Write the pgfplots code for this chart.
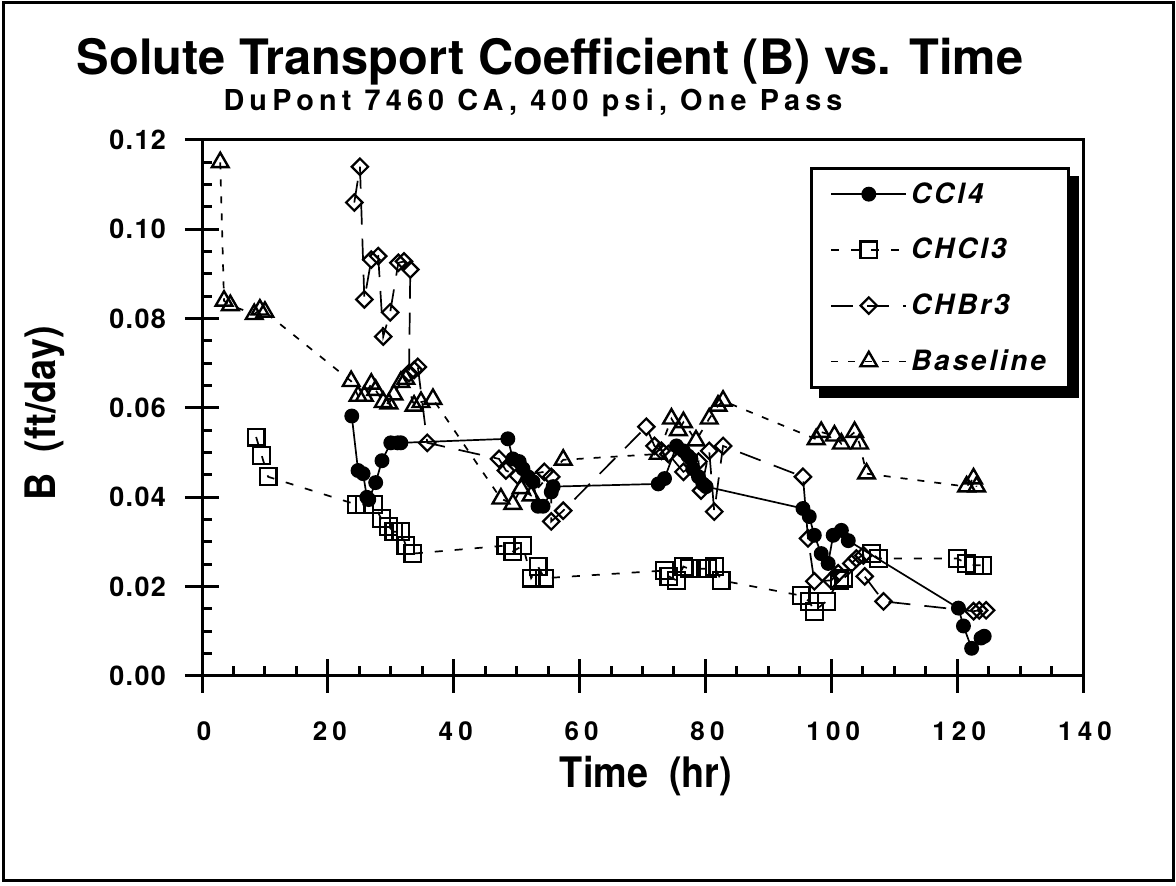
\documentclass[border=0pt]{standalone}
\usepackage{fontspec}
\setmainfont{TeX Gyre Heros}
\newfontfamily\cond[FakeStretch=0.9]{TeX Gyre Heros}
\newfontfamily\spaced[LetterSpace=10]{TeX Gyre Heros}
\newfontfamily\xspaced[LetterSpace=20]{TeX Gyre Heros}
\newfontfamily\yspaced[LetterSpace=5]{TeX Gyre Heros}
\newfontfamily\subspaced[LetterSpace=18]{TeX Gyre Heros}
\usepackage{pgfplots}
\pgfplotsset{compat=1.18}

\begin{document}
\begin{tikzpicture}
\useasboundingbox (0,0) rectangle (588pt,443pt);
\draw[line width=1.5pt] (1.5pt,2.5pt) rectangle (586.5pt,441.5pt);
\node[font=\bfseries\fontsize{24.4}{28}\selectfont] at (275pt,412pt) {Solute Transport Coefficient (B) vs. Time};
\node[font=\subspaced\bfseries\fontsize{14.4}{16}\selectfont] at (266.5pt,391.5pt) {DuPont 7460 CA, 400 psi, One Pass};
\begin{axis}[
  at={(101pt,105pt)}, anchor=south west,
  scale only axis, width=440.5pt, height=268pt,
  xmin=0, xmax=140, ymin=0, ymax=0.12,
  xtick={0,20,...,140}, ytick={0,0.02,0.04,0.06,0.08,0.10,0.12},
  minor x tick num=3, minor y tick num=3,
  tick pos=left,
  tick align=center, major tick length=17pt, minor tick length=5pt,
  minor x tick style={yshift=2.5pt}, minor y tick style={xshift=2.5pt},
  axis line style={line width=1.5pt},
  every tick/.style={line width=1.5pt, black},
  scaled y ticks=false,
  /pgf/number format/assume math mode=true,
  y tick label style={/pgf/number format/fixed, /pgf/number format/fixed zerofill, /pgf/number format/precision=2},
  xticklabel style={font=\xspaced\bfseries\fontsize{13}{15}\selectfont, yshift=-11pt, xshift=1pt},
  yticklabel style={font=\yspaced\bfseries\fontsize{13.5}{15}\selectfont, xshift=-6pt},
  xlabel={Time\ \ (hr)},
  ylabel={B\ \ (ft/day)},
  every axis x label/.style={at={(axis description cs:0.504,-0.187)}, anchor=center, font=\cond\bfseries\fontsize{21}{24}\selectfont},
  every axis y label/.style={at={(axis description cs:-0.178,0.49)}, anchor=center, rotate=90, font=\cond\bfseries\fontsize{21}{24}\selectfont},
  legend style={at={(0.690,0.950)}, anchor=north west, draw=black, line width=1.5pt, fill=white,
    name=leg,
    inner xsep=9.5pt, inner ysep=5pt, row sep=12pt,
    font=\spaced\bfseries\itshape\fontsize{14}{16}\selectfont,
    cells={anchor=west}},
  legend image code/.code={\draw[mark repeat=2,mark phase=2] plot coordinates {(0cm,0cm) (0.66cm,0cm) (1.32cm,0cm)};},
  clip=false,
]
% CCl4
\addplot[black, line width=0.85pt, mark=*, mark size=3.3pt, mark options={solid, fill=black}] coordinates {
(23.8,0.0582)(24.8,0.0460)(25.6,0.0453)(26.2,0.0400)(26.5,0.0395)(27.6,0.0433)(28.6,0.0482)(30.0,0.0522)(31.1,0.0522)(31.6,0.0522)
(48.6,0.0531)(49.4,0.0486)(50.4,0.0480)(51.0,0.0464)(51.8,0.0446)(52.6,0.0435)(53.4,0.0380)(54.2,0.0380)(55.5,0.0412)(55.8,0.0424)
(72.5,0.0430)(73.5,0.0442)(75.4,0.0515)(76.5,0.0504)(77.2,0.0493)(77.7,0.0486)(78.0,0.0464)(78.9,0.0446)(79.6,0.0430)(80.1,0.0424)
(95.5,0.0375)(96.5,0.0357)(97.3,0.0315)(98.4,0.0274)(99.5,0.0252)(100.3,0.0315)(101.6,0.0326)(102.7,0.0303)
(120.2,0.0152)(121.0,0.0112)(122.3,0.0062)(123.8,0.0085)(124.3,0.0089)
};
\addlegendentry{CCl4}
% CHCl3
\addplot[black, line width=0.85pt, dash pattern=on 4pt off 6pt, mark=square, mark size=4.2pt, mark options={solid, line width=1.1pt}] coordinates {
(8.6,0.0535)(9.5,0.0493)(10.5,0.0446)
(24.5,0.0384)(25.8,0.0384)(27.3,0.0384)(28.5,0.0352)(29.6,0.0335)(30.5,0.0323)(31.6,0.0323)(32.4,0.0292)(33.5,0.0274)
(48.3,0.0292)(49.4,0.0279)(51.0,0.0292)(52.3,0.0219)(53.4,0.0245)(54.4,0.0219)
(73.5,0.0236)(74.2,0.0223)(75.4,0.0214)(76.5,0.0245)(77.4,0.0240)(79.3,0.0240)(80.4,0.0240)(81.4,0.0245)(82.5,0.0214)
(95.2,0.0180)(96.5,0.0167)(97.3,0.0145)(99.2,0.0167)(101.3,0.0214)(102.0,0.0219)(106.4,0.0274)(107.5,0.0263)
(120.0,0.0263)(121.5,0.0252)(122.8,0.0248)(124.1,0.0248)
};
\addlegendentry{CHCl3}
% CHBr3
\addplot[black, line width=0.85pt, dash pattern=on 11pt off 7pt, mark=square, mark size=2.9pt, mark options={solid, rotate=45, line width=1.1pt}] coordinates {
(24.2,0.1060)(25.1,0.1140)(25.8,0.0843)(26.9,0.0932)(28.0,0.0940)(28.8,0.0760)(29.9,0.0814)(31.2,0.0925)(32.1,0.0928)(33.1,0.0910)
(32.9,0.0678)(33.7,0.0685)(34.3,0.0692)(35.8,0.0522)
(47.2,0.0486)(48.3,0.0460)(50.2,0.0448)(54.4,0.0457)(55.5,0.0446)(55.5,0.0346)(57.4,0.0370)
(70.6,0.0558)(71.9,0.0515)(73.0,0.0504)(74.1,0.0497)(76.5,0.0457)(78.9,0.0480)(79.3,0.0415)(80.6,0.0504)(81.4,0.0368)(82.8,0.0515)
(95.5,0.0446)(96.3,0.0308)(97.3,0.0212)(100.0,0.0214)(101.1,0.0230)(103.2,0.0252)(104.0,0.0263)(105.1,0.0270)(105.3,0.0223)(108.3,0.0167)
(122.6,0.0145)(123.5,0.0147)(124.6,0.0147)
};
\addlegendentry{CHBr3}
% Baseline
\addplot[black, line width=0.85pt, dash pattern=on 3.5pt off 5pt, mark=triangle, mark size=4.8pt, mark options={solid, line width=1.2pt}] coordinates {
(2.9,0.1150)(3.5,0.0840)(4.5,0.0830)(8.3,0.0810)(9.2,0.0820)(10.0,0.0815)
(23.7,0.0660)(24.8,0.0627)(25.8,0.0627)(26.9,0.0654)(27.6,0.0640)(28.8,0.0613)(29.7,0.0610)(30.5,0.0630)(31.6,0.0658)(32.4,0.0665)(33.7,0.0605)(34.8,0.0613)(36.7,0.0620)
(47.5,0.0397)(49.4,0.0385)(50.7,0.0420)(52.3,0.0404)(57.4,0.0484)
(72.5,0.0497)(74.6,0.0576)(75.7,0.0550)(76.5,0.0568)(78.5,0.0527)(80.6,0.0576)(82.0,0.0605)(82.8,0.0616)
(97.6,0.0530)(98.4,0.0546)(100.5,0.0538)(101.6,0.0520)(103.7,0.0546)(104.5,0.0520)(105.6,0.0453)
(121.5,0.0424)(122.6,0.0442)(123.1,0.0424)
};
\addlegendentry{Baseline}
\end{axis}
\fill[black] ([yshift=-4.5pt]leg.north east) rectangle ([xshift=4.5pt,yshift=-4.5pt]leg.south east);
\fill[black] ([xshift=4.5pt]leg.south west) rectangle ([xshift=4.5pt,yshift=-4.5pt]leg.south east);
\end{tikzpicture}
\end{document}
